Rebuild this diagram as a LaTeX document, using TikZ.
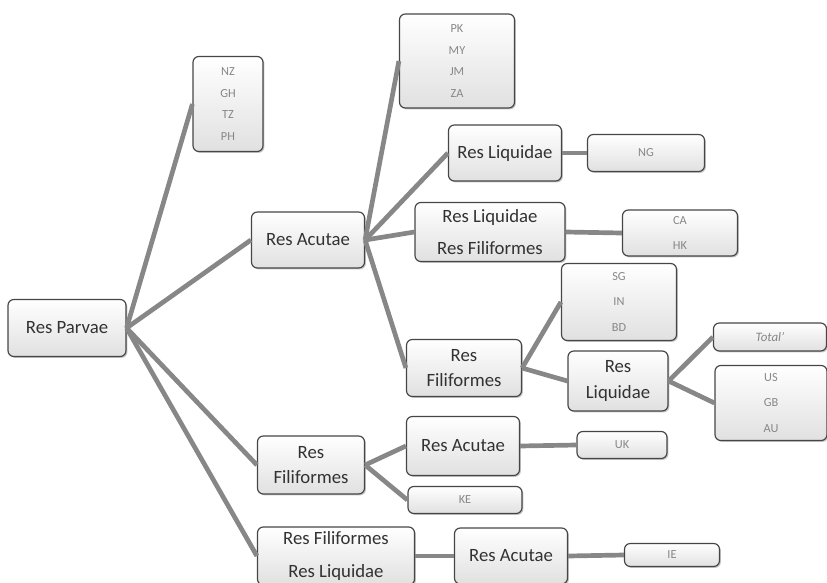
\documentclass[tikz,border=0pt]{standalone}
\usepackage{fontspec}
\setmainfont{Carlito}
\usepackage{tikz}
\usetikzlibrary{shadows}
\definecolor{edgeGray}{RGB}{135,135,135}
\definecolor{rimGray}{RGB}{70,70,70}
\definecolor{textGray}{RGB}{50,50,50}
\definecolor{codeGray}{RGB}{135,135,135}

\tikzset{
  box/.style={draw=rimGray, line width=1pt, rounded corners=5pt,
    top color=white, bottom color=black!12, align=center, inner sep=0pt,
    drop shadow={shadow xshift=1.2pt, shadow yshift=-1.2pt, opacity=.45},
    text=textGray, font=\fontsize{16}{20}\selectfont},
  codes/.style={box, text=codeGray, font=\fontsize{10.5}{18.5}\selectfont},
  sz/.style 2 args={minimum width=#1*0.03cm, minimum height=#2*0.03cm},
  branch/.style={edgeGray, line width=4pt},
}

\begin{document}
\begin{tikzpicture}[x=0.03cm, y=-0.03cm]
    \useasboundingbox (0,0) rectangle (827,583);
    % left column
    \node[box, sz={118}{57}] (parvae) at (67,328) {Res Parvae};
    \node[codes, sz={70}{95}] (nz) at (228,104) {NZ\\GH\\TZ\\PH};
    \node[box, sz={113}{56}] (acutae) at (308,240) {Res Acutae};
    \node[box, sz={107}{58}, font=\fontsize{16}{22}\selectfont] (filif) at (311,465) {Res\\Filiformes};
    \node[box, sz={157}{58}, font=\fontsize{16}{28}\selectfont] (filliq) at (336,556) {Res Filiformes\\Res Liquidae};
    % under Res Acutae
    \node[codes, sz={115}{94}] (pk) at (457,61) {PK\\MY\\JM\\ZA};
    \node[box, sz={113}{56}] (liqA) at (505,153) {Res Liquidae};
    \node[codes, sz={117}{37}] (ng) at (646,153) {NG};
    \node[box, sz={150}{59}, font=\fontsize{16}{28}\selectfont] (liqfil) at (490,232) {Res Liquidae\\Res Filiformes};
    \node[codes, sz={115}{46}, font=\fontsize{10.5}{22}\selectfont] (ca) at (680,233) {CA\\HK};
    \node[box, sz={115}{57}, font=\fontsize{16}{22}\selectfont] (filA) at (464,368) {Res\\Filiformes};
    \node[codes, sz={115}{77}, font=\fontsize{10.5}{22}\selectfont] (sg) at (619,302) {SG\\IN\\BD};
    \node[box, sz={100}{60}, font=\fontsize{16}{22}\selectfont] (liqB) at (618,381) {Res\\Liquidae};
    \node[codes, sz={113}{28}, font=\fontsize{11}{12}\itshape] (total) at (770,337) {Total'};
    \node[codes, sz={112}{75}, font=\fontsize{10.5}{22}\selectfont] (us) at (771,403) {US\\GB\\AU};
    % under Res Filiformes
    \node[box, sz={113}{59}] (acutB) at (463,446) {Res Acutae};
    \node[codes, sz={90}{27}] (uk) at (622,445) {UK};
    \node[codes, sz={114}{27}] (ke) at (465,500) {KE};
    % under Res Filiformes / Res Liquidae
    \node[box, sz={113}{56}] (acutC) at (511,556) {Res Acutae};
    \node[codes, sz={95}{23}] (ie) at (672,555) {IE};

    \draw[branch] (parvae.east) -- (nz.west);
    \draw[branch] (parvae.east) -- (acutae.west);
    \draw[branch] (parvae.east) -- (filif.west);
    \draw[branch] (parvae.east) -- (filliq.west);
    \draw[branch] (acutae.east) -- (pk.west);
    \draw[branch] (acutae.east) -- (liqA.west);
    \draw[branch] (acutae.east) -- (liqfil.west);
    \draw[branch] (acutae.east) -- (filA.west);
    \draw[branch] (liqA.east) -- (ng.west);
    \draw[branch] (liqfil.east) -- (ca.west);
    \draw[branch] (filA.east) -- (sg.west);
    \draw[branch] (filA.east) -- (liqB.west);
    \draw[branch] (liqB.east) -- (total.west);
    \draw[branch] (liqB.east) -- (us.west);
    \draw[branch] (filif.east) -- (acutB.west);
    \draw[branch] (filif.east) -- (ke.west);
    \draw[branch] (acutB.east) -- (uk.west);
    \draw[branch] (filliq.east) -- (acutC.west);
    \draw[branch] (acutC.east) -- (ie.west);
\end{tikzpicture}
\end{document}
